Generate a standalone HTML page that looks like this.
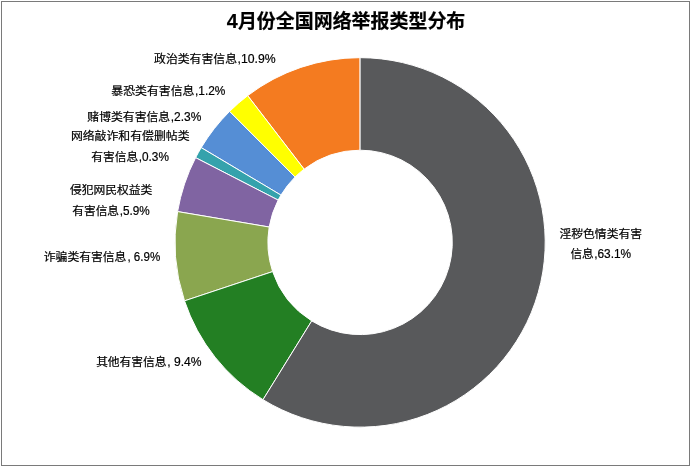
<!DOCTYPE html>
<html lang="zh"><head><meta charset="utf-8"><title>4月份全国网络举报类型分布</title>
<style>
html,body{margin:0;padding:0;background:#fff;}
svg{display:block;}
text{font-family:"Liberation Sans","Noto Sans CJK SC",sans-serif;font-size:11.5px;fill:#000;stroke:#000;stroke-width:0.2px;}
text.n{font-size:12.5px;}
.title{font-size:19.4px;font-weight:bold;}
</style></head><body>
<svg width="691" height="467" viewBox="0 0 691 467">
<rect x="0" y="0" width="691" height="467" fill="#fff"/>
<rect x="1.5" y="1.5" width="688" height="464" fill="none" stroke="#7a7a7a" stroke-width="1"/>
<path d="M360.10,57.65 A185.1,184.75 0 0 0 247.67,95.63 L304.10,169.15 A92.2,92.2 0 0 1 360.10,150.20 Z" fill="#F47B20" stroke="#fff" stroke-width="1" stroke-linejoin="round"/>
<path d="M247.67,95.63 A185.1,184.75 0 0 0 229.56,111.42 L295.08,177.03 A92.2,92.2 0 0 1 304.10,169.15 Z" fill="#FFFF00" stroke="#fff" stroke-width="1" stroke-linejoin="round"/>
<path d="M229.56,111.42 A185.1,184.75 0 0 0 201.21,147.63 L280.95,195.11 A92.2,92.2 0 0 1 295.08,177.03 Z" fill="#558ED5" stroke="#fff" stroke-width="1" stroke-linejoin="round"/>
<path d="M201.21,147.63 A185.1,184.75 0 0 0 195.62,157.66 L278.17,200.11 A92.2,92.2 0 0 1 280.95,195.11 Z" fill="#35A2AC" stroke="#fff" stroke-width="1" stroke-linejoin="round"/>
<path d="M195.62,157.66 A185.1,184.75 0 0 0 177.59,211.59 L269.19,227.02 A92.2,92.2 0 0 1 278.17,200.11 Z" fill="#8064A2" stroke="#fff" stroke-width="1" stroke-linejoin="round"/>
<path d="M177.59,211.59 A185.1,184.75 0 0 0 184.51,300.87 L272.64,271.58 A92.2,92.2 0 0 1 269.19,227.02 Z" fill="#8AA64F" stroke="#fff" stroke-width="1" stroke-linejoin="round"/>
<path d="M184.51,300.87 A185.1,184.75 0 0 0 263.00,399.69 L311.73,320.90 A92.2,92.2 0 0 1 272.64,271.58 Z" fill="#237F23" stroke="#fff" stroke-width="1" stroke-linejoin="round"/>
<path d="M263.00,399.69 A185.1,184.75 0 1 0 360.10,57.65 L360.10,150.20 A92.2,92.2 0 1 1 311.73,320.90 Z" fill="#58595B" stroke="#fff" stroke-width="1" stroke-linejoin="round"/>
<text class="title" x="226.8" y="27.8" textLength="11.0" lengthAdjust="spacingAndGlyphs" style="font-size:21px">4</text>
<text class="title" x="237.9" y="27.7" textLength="227.4" lengthAdjust="spacingAndGlyphs">月份全国网络举报类型分布</text>
<text x="154.10" y="63.10" textLength="82.90" lengthAdjust="spacingAndGlyphs">政治类有害信息</text>
<text class="n" x="237.60" y="63.10" textLength="38.10" lengthAdjust="spacingAndGlyphs">,10.9%</text>
<text x="111.30" y="95.20" textLength="83.10" lengthAdjust="spacingAndGlyphs">暴恐类有害信息</text>
<text class="n" x="195.00" y="95.20" textLength="30.40" lengthAdjust="spacingAndGlyphs">,1.2%</text>
<text x="87.35" y="121.30" textLength="82.85" lengthAdjust="spacingAndGlyphs">赌博类有害信息</text>
<text class="n" x="170.80" y="121.30" textLength="30.60" lengthAdjust="spacingAndGlyphs">,2.3%</text>
<text x="70.90" y="140.00" textLength="118.60" lengthAdjust="spacingAndGlyphs">网络敲诈和有偿删帖类</text>
<text x="91.30" y="161.10" textLength="46.80" lengthAdjust="spacingAndGlyphs">有害信息</text>
<text class="n" x="138.70" y="161.10" textLength="30.20" lengthAdjust="spacingAndGlyphs">,0.3%</text>
<text x="69.90" y="194.20" textLength="82.50" lengthAdjust="spacingAndGlyphs">侵犯网民权益类</text>
<text x="72.20" y="215.30" textLength="46.90" lengthAdjust="spacingAndGlyphs">有害信息</text>
<text class="n" x="119.70" y="215.30" textLength="30.10" lengthAdjust="spacingAndGlyphs">,5.9%</text>
<text x="43.80" y="261.40" textLength="82.60" lengthAdjust="spacingAndGlyphs">诈骗类有害信息</text>
<text class="n" x="127.40" y="261.40" textLength="32.80" lengthAdjust="spacingAndGlyphs">, 6.9%</text>
<text x="96.15" y="366.30" textLength="70.35" lengthAdjust="spacingAndGlyphs">其他有害信息</text>
<text class="n" x="167.30" y="366.30" textLength="34.30" lengthAdjust="spacingAndGlyphs">, 9.4%</text>
<text x="559.50" y="237.60" textLength="82.50" lengthAdjust="spacingAndGlyphs">淫秽色情类有害</text>
<text x="570.40" y="257.80" textLength="23.20" lengthAdjust="spacingAndGlyphs">信息</text>
<text class="n" x="594.20" y="257.80" textLength="37.00" lengthAdjust="spacingAndGlyphs">,63.1%</text>
</svg>
</body></html>
